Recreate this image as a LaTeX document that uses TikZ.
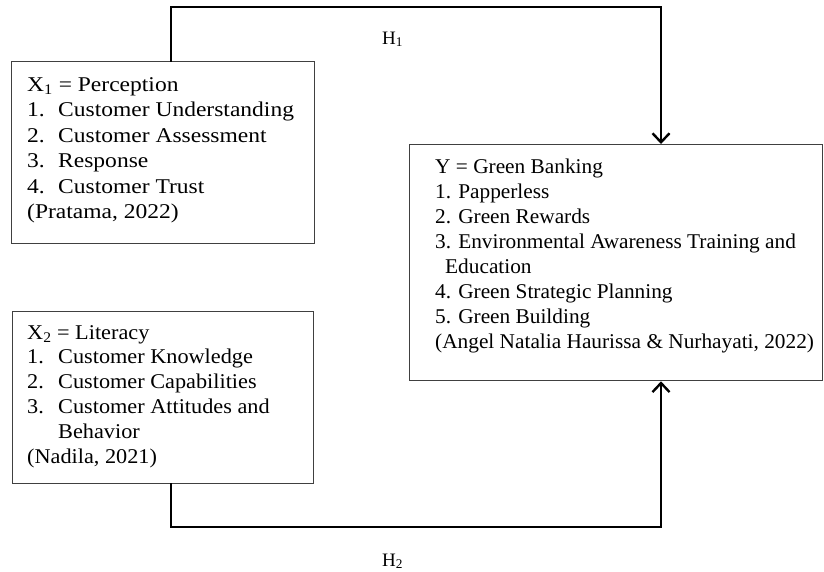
\documentclass[tikz,border=0pt]{standalone}
\usepackage{fontspec}
\setmainfont{Liberation Serif}
\newfontfamily\fontxa[FakeStretch=1.12]{Liberation Serif}
\newfontfamily\fontxb[FakeStretch=1.06]{Liberation Serif}
\newfontfamily\fonty[FakeStretch=1.015]{Liberation Serif}
\usetikzlibrary{arrows.meta}
\newcommand\numitem[1]{\makebox[31pt][l]{#1}}
\begin{document}
\begin{tikzpicture}[x=1pt,y=-1pt,
  box/.style={draw=black!75, line width=1.3pt, inner sep=0pt, anchor=north west},
  txt/.style={inner sep=0pt, anchor=base west},
  link/.style={line width=2.4pt, line cap=rect, -{Straight Barb[length=9pt,width=17pt]}},
  hyp/.style={inner sep=0pt, anchor=base west, font=\fontsize{19}{22}\selectfont}]
\useasboundingbox (0,0) rectangle (824,571);
\fill[white] (0,0) rectangle (824,571);
% boxes
\node[box, minimum width=303pt, minimum height=182pt] (x1) at (11,61) {};
\node[box, minimum width=301pt, minimum height=172pt] (x2) at (12,311) {};
\node[box, minimum width=413pt, minimum height=236pt] (y) at (409,144) {};
% texts
\node[txt, font=\fontxa\fontsize{21}{25.5}\selectfont] (x1t) at (27,91) {\begin{tabular}[t]{@{}l@{}}
X\textsubscript{1} = Perception\\
\numitem{1.}Customer Understanding\\
\numitem{2.}Customer Assessment\\
\numitem{3.}Response\\
\numitem{4.}Customer Trust\\
(Pratama, 2022)
\end{tabular}};
\node[txt, font=\fontxb\fontsize{21}{24.8}\selectfont] (x2t) at (27,339) {\begin{tabular}[t]{@{}l@{}}
X\textsubscript{2} = Literacy\\
\numitem{1.}Customer Knowledge\\
\numitem{2.}Customer Capabilities\\
\numitem{3.}Customer Attitudes and\\
\numitem{}Behavior\\
(Nadila, 2021)
\end{tabular}};
\node[txt, font=\fonty\fontsize{21}{25.1}\selectfont] (yt) at (435,173) {\begin{tabular}[t]{@{}l@{}}
Y = Green Banking\\
1. Papperless\\
2. Green Rewards\\
3. Environmental Awareness Training and\\
\hspace*{10pt}Education\\
4. Green Strategic Planning\\
5. Green Building\\
(Angel Natalia Haurissa \& Nurhayati, 2022)
\end{tabular}};
% connectors
\coordinate (t1) at (171,7);
\coordinate (t2) at (661,7);
\coordinate (b1) at (171,527);
\coordinate (b2) at (661,527);
\draw[link] (t1 |- x1.north) -- (t1) -- (t2) -- (t2 |- y.north);
\draw[link] (b1 |- x2.south) -- (b1) -- (b2) -- (b2 |- y.south);
% labels
\node[hyp] (h1) at (382,44) {H\textsubscript{1}};
\node[hyp] (h2) at (382,566) {H\textsubscript{2}};
\end{tikzpicture}
\end{document}
